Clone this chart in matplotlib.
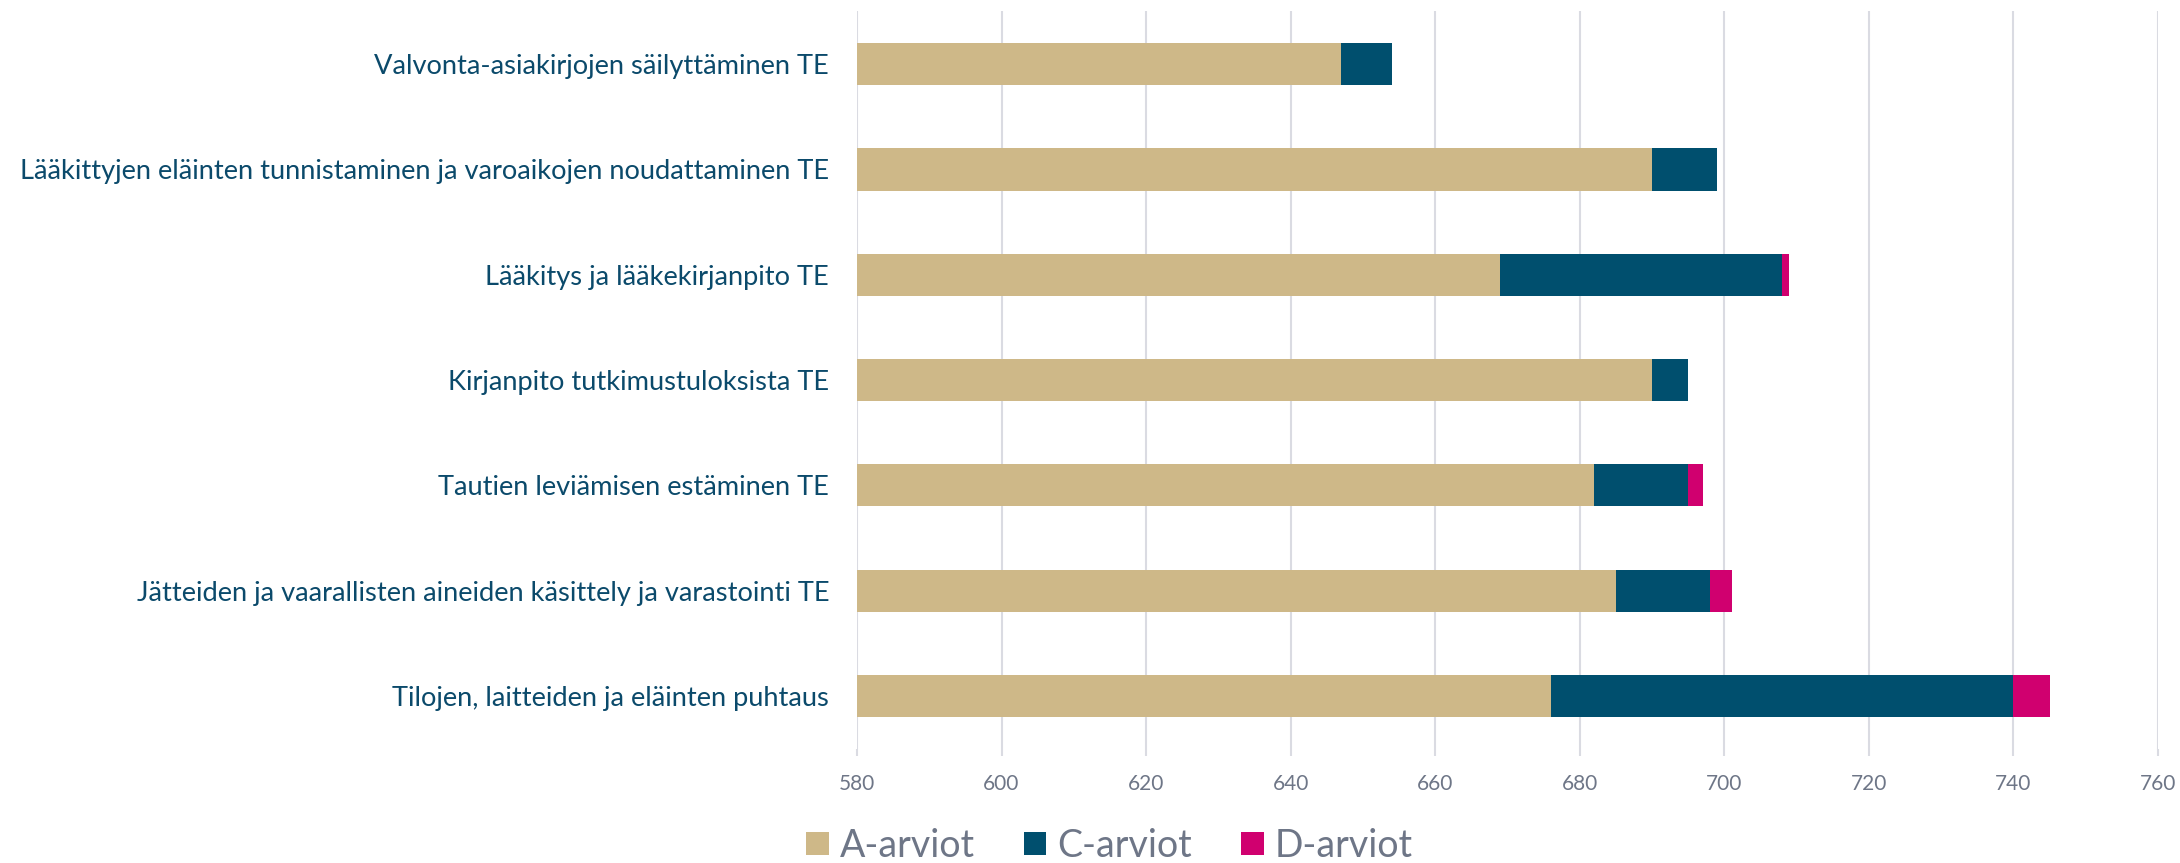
import numpy as np
from matplotlib import pyplot as plt
from matplotlib.patches import Patch

categories = [
    "Valvonta-asiakirjojen säilyttäminen TE",
    "Lääkittyjen eläinten tunnistaminen ja varoaikojen noudattaminen TE",
    "Lääkitys ja lääkekirjanpito TE",
    "Kirjanpito tutkimustuloksista TE",
    "Tautien leviämisen estäminen TE",
    "Jätteiden ja vaarallisten aineiden käsittely ja varastointi TE",
    "Tilojen, laitteiden ja eläinten puhtaus",
]
a_arviot = [647, 690, 669, 690, 682, 685, 676]
c_arviot = [7, 9, 39, 5, 13, 13, 64]
d_arviot = [0, 0, 1, 0, 2, 3, 5]
series_names = ["A-arviot", "C-arviot", "D-arviot"]
xticks = [580, 600, 620, 640, 660, 680, 700, 720, 740, 760]

colors = ["#CEB888", "#004F6E", "#D0006F"]
label_color = "#0B4A6B"
tick_color = "#6E7687"
grid_color = "#DADBE2"

plt.rcParams['font.family'] = ['Lato', 'DejaVu Sans']

fig = plt.figure(figsize=(21.8, 8.63), dpi=100)
ax = fig.add_axes([0.3931, 0.1325, 0.5968, 0.8542])

y = np.arange(len(categories))
a = np.array(a_arviot)
c = np.array(c_arviot)
d = np.array(d_arviot)
h = 0.4
ax.barh(y, a, height=h, color=colors[0], zorder=2)
ax.barh(y, c, left=a, height=h, color=colors[1], zorder=2)
ax.barh(y, d, left=a + c, height=h, color=colors[2], zorder=2)

ax.set_xlim(580, 760)
ax.set_ylim(len(categories) - 0.5, -0.5)
ax.set_xticks(xticks)
ax.set_xticklabels([str(t) for t in xticks])
ax.set_yticks(y)
ax.set_yticklabels(categories)

ax.grid(axis='x', color=grid_color, linewidth=1.5, zorder=0)
for s in ax.spines.values():
    s.set_visible(False)
ax.tick_params(axis='y', length=0, pad=20, labelsize=19.6, labelcolor=label_color)
ax.tick_params(axis='x', length=5, width=1.5, color=grid_color, pad=13,
               labelsize=15, labelcolor=tick_color)

handles = [Patch(facecolor=col, label=n) for col, n in zip(colors, series_names)]
fig.legend(handles=handles, loc='center', bbox_to_anchor=(0.509, 0.02), ncol=3,
           frameon=False, fontsize=27, labelcolor=tick_color,
           handlelength=0.6, handleheight=0.6, handletextpad=0.3, columnspacing=1.3)

fig.savefig("out.png", dpi=100)
